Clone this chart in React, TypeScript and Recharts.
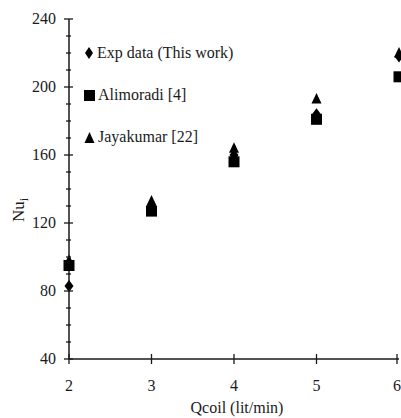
import { ScatterChart, Scatter, XAxis, YAxis } from "recharts";

const flowRates = [2, 3, 4, 5, 6];
const expData = [83, 130, 160, 184, 218];
const alimoradi = [95, 127, 156, 181, 206];
const jayakumar = [98, 133, 164, 193, 220];

const xTicks = [2, 3, 4, 5, 6];
const yTicks = [40, 50, 60, 70, 80, 90, 100, 110, 120, 130, 140, 150, 160, 170, 180, 190, 200, 210, 220, 230, 240];
const yLabelTicks = [40, 80, 120, 160, 200, 240];

const seriesNames = ["Exp data (This work)", "Alimoradi [4]", "Jayakumar [22]"];

const toPoints = (ys: number[]) => flowRates.map((x, i) => ({ x, y: ys[i] }));

const FONT = "'Liberation Serif', 'Times New Roman', serif";
const INK = "#1a1a1a";
const txt = { fontFamily: FONT, fontSize: 16 };

const Diamond = ({ cx, cy }: any) => (
  <path d={`M${cx},${cy - 6} L${cx + 4.5},${cy} L${cx},${cy + 6} L${cx - 4.5},${cy} Z`} fill="#000" />
);
const Square = ({ cx, cy }: any) => <rect x={cx - 5.5} y={cy - 5.5} width={11} height={11} fill="#000" />;
const Triangle = ({ cx, cy }: any) => (
  <path d={`M${cx},${cy - 6} L${cx + 5},${cy + 4.5} L${cx - 5},${cy + 4.5} Z`} fill="#000" />
);

const YTick = ({ x, y, payload }: any) => {
  const major = yLabelTicks.includes(payload.value);
  return (
    <g>
      <line x1={major ? x - 5 : x - 3} x2={major ? x + 4 : x + 2} y1={y} y2={y} stroke={INK} strokeWidth={1.3} />
      {major && (
        <text x={x - 13} y={y} dy={5} textAnchor="end" style={txt} fill={INK}>
          {payload.value}
        </text>
      )}
    </g>
  );
};

const XTick = ({ x, y, payload }: any) => (
  <g>
    <line x1={x} x2={x} y1={y - 5} y2={y + 5} stroke={INK} strokeWidth={1.3} />
    <text x={x} y={y + 32} textAnchor="middle" style={txt} fill={INK}>
      {payload.value}
    </text>
  </g>
);

const legendIcons = [
  (
    <svg width={10} height={14}>
      <path d="M5,1 L9,7 L5,13 L1,7 Z" fill="#000" />
    </svg>
  ),
  (
    <svg width={11} height={14}>
      <rect x={0} y={2} width={11} height={11} fill="#000" />
    </svg>
  ),
  (
    <svg width={11} height={14}>
      <path d="M5.5,2 L10.5,13 L0.5,13 Z" fill="#000" />
    </svg>
  ),
];

export default function App() {
  return (
    <div style={{ position: "absolute", left: 0, top: 0, width: 401, height: 418, background: "#fff" }}>
      <ScatterChart width={401} height={418} margin={{ top: 19, right: 2, bottom: 0, left: 0 }}>
        <XAxis
          dataKey="x"
          type="number"
          domain={[2, 6]}
          ticks={xTicks}
          height={59}
          tickSize={0}
          tickMargin={0}
          tick={<XTick />}
          axisLine={{ stroke: INK, strokeWidth: 1.5 }}
          tickLine={false}
          label={{
            content: () => (
              <text x={237} y={413} textAnchor="middle" style={txt} fill={INK}>
                Qcoil (lit/min)
              </text>
            ),
          }}
        />
        <XAxis
          xAxisId="top"
          orientation="top"
          type="number"
          domain={[2, 6]}
          height={0}
          tick={false}
          tickLine={false}
          axisLine={{ stroke: "#666", strokeWidth: 1.5 }}
        />
        <YAxis
          dataKey="y"
          type="number"
          domain={[40, 240]}
          ticks={yTicks}
          interval={0}
          width={69}
          tickSize={0}
          tickMargin={0}
          tick={<YTick />}
          axisLine={{ stroke: INK, strokeWidth: 1.5 }}
          tickLine={false}
          label={{
            content: () => (
              <text
                x={24}
                y={210}
                transform="rotate(-90 24 210)"
                textAnchor="middle"
                style={{ fontFamily: FONT, fontSize: 17 }}
                fill={INK}
              >
                Nu
                <tspan dy={4} style={{ fontSize: 12 }}>i</tspan>
              </text>
            ),
          }}
        />
        <YAxis
          yAxisId="right"
          orientation="right"
          type="number"
          domain={[40, 240]}
          width={0}
          tick={false}
          tickLine={false}
          axisLine={{ stroke: "#666", strokeWidth: 1.5 }}
        />
        <Scatter name={seriesNames[2]} data={toPoints(jayakumar)} shape={<Triangle />} isAnimationActive={false} />
        <Scatter name={seriesNames[1]} data={toPoints(alimoradi)} shape={<Square />} isAnimationActive={false} />
        <Scatter name={seriesNames[0]} data={toPoints(expData)} shape={<Diamond />} isAnimationActive={false} />
      </ScatterChart>
      <div style={{ position: "absolute", left: 84, top: 32, fontFamily: FONT, fontSize: 16, color: INK }}>
        {seriesNames.map((name, i) => (
          <div key={name} style={{ display: "flex", alignItems: "center", height: 42 }}>
            <span style={{ marginRight: 3, display: "flex" }}>{legendIcons[i]}</span>
            {name}
          </div>
        ))}
      </div>
    </div>
  );
}
